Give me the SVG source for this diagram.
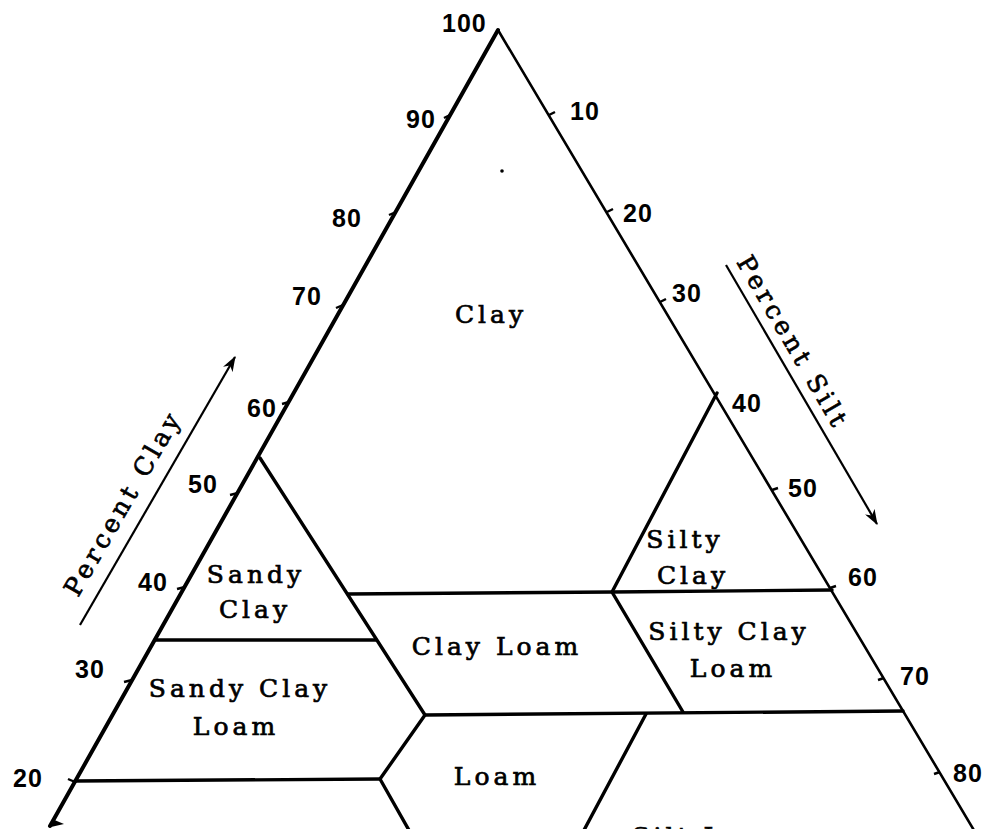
<svg xmlns="http://www.w3.org/2000/svg" width="993" height="829" viewBox="0 0 993 829">
<defs>
<style>
.edgeL{stroke:#000;stroke-width:4;fill:none;stroke-linecap:round}
.edgeR{stroke:#000;stroke-width:2.6;fill:none;stroke-linecap:round}
.bd{stroke:#000;stroke-width:3.4;fill:none;stroke-linecap:round;stroke-linejoin:round}
.tick{stroke:#000;stroke-width:2.4;fill:none}
.ax{stroke:#000;stroke-width:2.2;fill:none}
.num{font-family:"Liberation Sans",Arial,sans-serif;font-weight:bold;font-size:25px;fill:#000;letter-spacing:1px}
.lbl{font-family:"DejaVu Serif","Liberation Serif",serif;font-size:25px;fill:#000;stroke:#000;stroke-width:0.7px;letter-spacing:4px;text-anchor:middle}
.axl{font-family:"DejaVu Serif","Liberation Serif",serif;font-size:25px;fill:#000;stroke:#000;stroke-width:0.7px;letter-spacing:4px}
</style>
<marker id="arr" viewBox="0 0 14 10" refX="13" refY="5" markerWidth="16" markerHeight="11" markerUnits="userSpaceOnUse" orient="auto">
<path d="M0,0 L14,5 L0,10 L4,5 Z" fill="#000"/>
</marker>
</defs>
<rect width="993" height="829" fill="#fff"/>

<g id="triangle">
<line class="edgeL" x1="498" y1="30" x2="50" y2="826"/>
<line class="edgeR" x1="498" y1="30" x2="975" y2="832"/>
</g>

<g id="ticks">
<line class="tick" x1="450" y1="115" x2="444" y2="118"/>
<line class="tick" x1="396" y1="212" x2="389" y2="215"/>
<line class="tick" x1="343" y1="305" x2="336" y2="308"/>
<line class="tick" x1="289" y1="402" x2="282" y2="404"/>
<line class="tick" x1="238" y1="493" x2="230" y2="495"/>
<line class="tick" x1="185" y1="587" x2="177" y2="589"/>
<line class="tick" x1="132" y1="680" x2="124" y2="682"/>
<line class="tick" x1="75" y1="782" x2="68" y2="779"/>
<path d="M52,819 L64,824 L51,827 Z" fill="#000"/>
<line class="tick" x1="549" y1="115" x2="555" y2="112"/>
<line class="tick" x1="607" y1="212" x2="613" y2="209"/>
<line class="tick" x1="660" y1="302" x2="666" y2="299"/>
<line class="tick" x1="772" y1="490" x2="778" y2="488"/>
<line class="tick" x1="830" y1="588" x2="836" y2="586"/>
<line class="tick" x1="884" y1="678" x2="878" y2="680"/>
<line class="tick" x1="940" y1="772" x2="934" y2="774"/>
</g>

<g id="connectors">
<polyline class="bd" points="260,458 425,715 380,779 410,832"/>
<line class="bd" x1="155" y1="640" x2="376" y2="640"/>
<polyline class="bd" points="348,594 612,592 832,590"/>
<polyline class="bd" points="717,393 612,592 683,712"/>
<line class="bd" x1="425" y1="715" x2="903" y2="711"/>
<line class="bd" x1="75" y1="781" x2="380" y2="779"/>
<line class="bd" x1="646" y1="714" x2="583" y2="832"/>
<line class="ax" x1="80" y1="625" x2="235" y2="357" marker-end="url(#arr)"/>
<line class="ax" x1="726" y1="265" x2="877" y2="524" marker-end="url(#arr)"/>
</g>

<g id="numbers">
<text class="num" x="442" y="32">100</text>
<text class="num" x="406" y="128">90</text>
<text class="num" x="332" y="227">80</text>
<text class="num" x="292" y="305">70</text>
<text class="num" x="247" y="417">60</text>
<text class="num" x="188" y="493">50</text>
<text class="num" x="138" y="591">40</text>
<text class="num" x="75" y="678">30</text>
<text class="num" x="13" y="787">20</text>
<text class="num" x="570" y="120">10</text>
<text class="num" x="623" y="222">20</text>
<text class="num" x="672" y="302">30</text>
<text class="num" x="732" y="412">40</text>
<text class="num" x="788" y="497">50</text>
<text class="num" x="848" y="586">60</text>
<text class="num" x="900" y="685">70</text>
<text class="num" x="953" y="782">80</text>
</g>

<g id="axis-labels">
<text class="axl" transform="translate(78,598) rotate(-60)">Percent Clay</text>
<text class="axl" transform="translate(736,262) rotate(59.7)">Percent Silt</text>
</g>

<g id="clay"><text class="lbl" x="491" y="323">Clay</text></g>
<g id="sandy-clay"><text class="lbl" x="256" y="583">Sandy</text><text class="lbl" x="255" y="618">Clay</text></g>
<g id="silty-clay"><text class="lbl" x="685" y="548">Silty</text><text class="lbl" x="693" y="584">Clay</text></g>
<g id="clay-loam"><text class="lbl" x="497" y="655">Clay Loam</text></g>
<g id="silty-clay-loam"><text class="lbl" x="729" y="640">Silty Clay</text><text class="lbl" x="733" y="677">Loam</text></g>
<g id="sandy-clay-loam"><text class="lbl" x="240" y="697">Sandy Clay</text><text class="lbl" x="236" y="735">Loam</text></g>
<g id="loam"><text class="lbl" x="497" y="785">Loam</text></g>
<g id="silt-loam"><text class="lbl" x="711" y="845">Silt Loam</text></g>
<circle cx="502" cy="171" r="1.8" fill="#000"/>
</svg>
